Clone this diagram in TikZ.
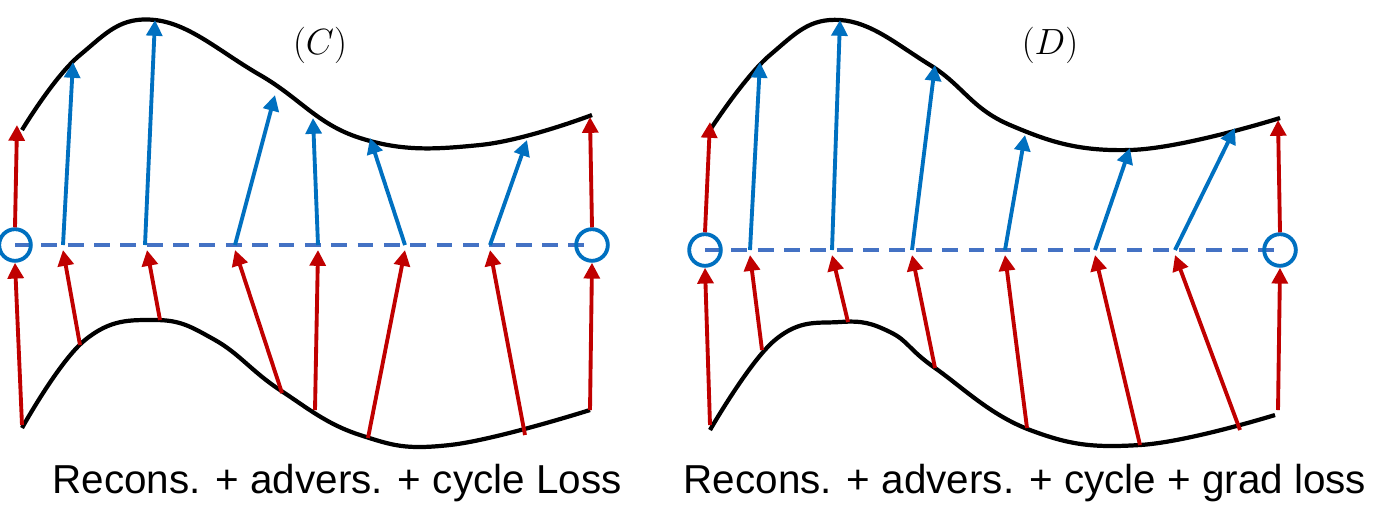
\documentclass[tikz,border=0pt]{standalone}
\usepackage{fontspec}
\setmainfont{Liberation Sans}
\usetikzlibrary{arrows.meta}
\definecolor{myred}{RGB}{192,0,0}
\definecolor{myblue}{RGB}{0,112,192}
\definecolor{mydash}{RGB}{68,114,196}
\begin{document}
\begin{tikzpicture}
	 [x=0.02cm,y=-0.02cm,
	  curve/.style={line width=2.4pt,black},
	  redarr/.style={line width=2.2pt,myred,-{Triangle[length=9pt,width=9pt]}},
	  bluearr/.style={line width=2.2pt,myblue,-{Triangle[length=9pt,width=9pt]}},
	  dashline/.style={line width=2.2pt,mydash,dash pattern=on 9pt off 6pt},
	  ring/.style={circle,draw=myblue,line width=2.2pt,minimum size=18pt,inner sep=0pt},
	  tag/.style={font=\fontsize{22}{26}\selectfont},
	  caption/.style={font=\fontsize{23}{27}\selectfont}]
	\useasboundingbox (0,0) rectangle (1395,529);

	% panel C
	\node (labC)[tag] at (320,45) {$(C)$};
	\draw[curve] plot[smooth,tension=0.7] coordinates {(22,130) (80,55) (155,20) (260,75) (360,138) (480,145) (592,115)};
	\draw[curve] plot[smooth,tension=0.7] coordinates {(22,428) (85,340) (155,320) (215,340) (280,390) (360,435) (450,445) (590,410)};
	\draw[dashline] (15,245) -- (592,245);
	\node (c0)[ring] at (15,245) {};
	\node (c1)[ring] at (592,245) {};
	\draw[redarr] (22,425) -- (c0.south);
	\draw[redarr] (c0.north) -- (17,125);
	\draw[redarr] (590,410) -- (c1.south);
	\draw[redarr] (c1.north) -- (590,117);
	\foreach \a/\b/\c in {80/345/63,160/320/147,282/393/235,315/410/318,368/438/405,525/435/490}
	  \draw[redarr] (\a,\b) -- (\c,250);
	\foreach \a/\c/\d in {63/73/62,145/155/20,235/275/95,318/313/118,405/370/138,490/527/140}
	  \draw[bluearr] (\a,245) -- (\c,\d);
	\node (capC)[caption] at (337,483) {Recons. + advers. + cycle Loss};

	% panel D
	\node (labD)[tag] at (1050,45) {$(D)$};
	\draw[curve] plot[smooth,tension=0.7] coordinates {(710,130) (770,55) (840,20) (930,65) (1010,125) (1130,150) (1280,118)};
	\draw[curve] plot[smooth,tension=0.7] coordinates {(710,430) (775,340) (840,322) (890,332) (935,368) (1030,430) (1140,445) (1275,415)};
	\draw[dashline] (705,250) -- (1280,250);
	\node (d0)[ring] at (705,250) {};
	\node (d1)[ring] at (1280,250) {};
	\draw[redarr] (710,425) -- (d0.south);
	\draw[redarr] (d0.north) -- (710,122);
	\draw[redarr] (1278,410) -- (d1.south);
	\draw[redarr] (d1.north) -- (1278,120);
	\foreach \a/\b/\c in {762/350/750,848/322/832,935/368/912,1027/428/1005,1140/445/1095,1240/430/1175}
	  \draw[redarr] (\a,\b) -- (\c,255);
	\foreach \a/\c/\d in {750/760/62,832/840/20,912/935/65,1005/1025/135,1095/1130/148,1175/1235/128}
	  \draw[bluearr] (\a,250) -- (\c,\d);
	\node (capD)[caption] at (1025,483) {Recons. + advers. + cycle + grad loss};
\end{tikzpicture}
\end{document}
